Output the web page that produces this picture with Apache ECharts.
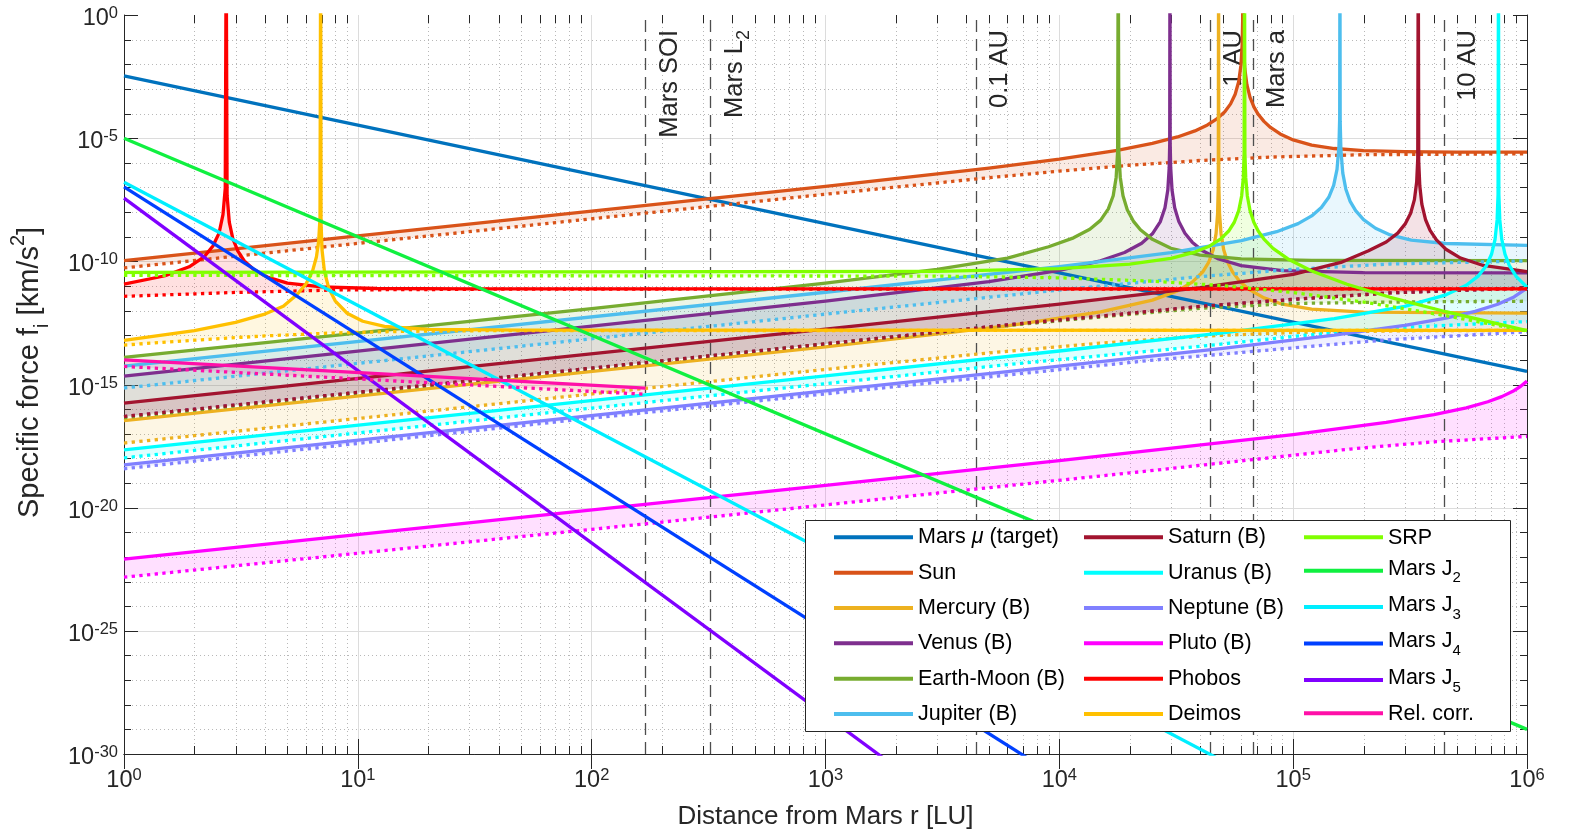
<!DOCTYPE html>
<html>
<head>
<meta charset="utf-8">
<script src="https://cdn.jsdelivr.net/npm/echarts@6/dist/echarts.min.js"></script>
<style>
  html, body { margin: 0; padding: 0; background: #fff; }
  #chart { width: 1571px; height: 839px; }
</style>
</head>
<body>
<div id="chart"></div>
<script>
// ---------------- data: distance r [LU] and specific force f [km/s^2] ----------------
// solid = upper bound (max), dotted = lower bound (min)

const muR = [1, 1e6];
const muF = [3.4e-3, 3.4e-15];

const sunMaxR = [1, 1000, 5000, 10000, 17700, 25000, 32000, 38000, 43000, 47000, 51000, 54000, 56500, 58500, 59800, 60500, 60800, 60950, 61100, 61400, 62100, 63400, 65400, 68000, 71000, 75000, 80000, 88000, 100000, 120000, 150000, 200000, 300000, 500000, 1e6];
const sunMaxF = [1.07e-10, 1.1e-7, 6.1e-7, 1.4e-6, 3.2e-6, 6.1e-6, 1.12e-5, 1.97e-5, 3.43e-5, 5.9e-5, 1.19e-4, 2.47e-4, 6.1e-4, 2.0e-3, 9.2e-3, 6.0e-2, 0.54, 1e3, 0.40, 4.4e-2, 6.7e-3, 1.49e-3, 4.5e-4, 1.82e-4, 9.1e-5, 4.8e-5, 2.73e-5, 1.49e-5, 8.5e-6, 5.2e-6, 3.8e-6, 3.14e-6, 2.84e-6, 2.73e-6, 2.69e-6];
const sunMinR = [1, 1000, 5000, 10000, 20000, 40000, 80000, 200000, 1e6];
const sunMinF = [5.4e-11, 5.3e-8, 2.48e-7, 4.59e-7, 7.95e-7, 1.24e-6, 1.71e-6, 2.13e-6, 2.33e-6];

const mercuryMaxR = [1, 1000, 6000, 15000, 25000, 32000, 37000, 41000, 43500, 45500, 46800, 47500, 47850, 47970, 48090, 48440, 49150, 50450, 52450, 55000, 59000, 65000, 75000, 90000, 120000, 200000, 1e6];
const mercuryMaxF = [3.4e-17, 3.4e-14, 2.42e-13, 8.8e-13, 2.66e-12, 6.3e-12, 1.43e-11, 3.67e-11, 9.0e-11, 2.97e-10, 1.33e-9, 8.2e-9, 1.26e-7, 1e3, 1.26e-7, 8.2e-9, 1.33e-9, 2.96e-10, 9.1e-11, 3.75e-11, 1.57e-11, 7.1e-12, 3.28e-12, 1.82e-12, 1.14e-12, 8.7e-13, 7.9e-13];
const mercuryMinR = [1, 1000, 5000, 15000, 40000, 100000, 300000, 1e6];
const mercuryMinF = [4.2e-18, 4.1e-15, 1.91e-14, 4.8e-14, 9.1e-14, 1.29e-13, 1.52e-13, 1.57e-13];

const venusMaxR = [1, 1000, 5000, 10000, 15000, 19000, 22500, 25000, 27000, 28300, 29100, 29500, 29650, 29720, 29790, 29940, 30340, 31140, 32440, 34440, 37000, 41000, 48000, 60000, 90000, 200000, 1e6];
const venusMaxF = [2.2e-15, 2.41e-12, 1.51e-11, 4.3e-11, 1.05e-10, 2.27e-10, 5.4e-10, 1.31e-9, 4.0e-9, 1.49e-8, 7.8e-8, 6.2e-7, 6.1e-6, 1e3, 6.1e-6, 6.2e-7, 7.8e-8, 1.49e-8, 4.1e-9, 1.38e-9, 6.0e-10, 2.7e-10, 1.24e-10, 6.7e-11, 4.2e-11, 3.5e-11, 3.4e-11];
const venusMinR = [1, 73.5, 6166, 14960, 40090, 107200, 260000, 1e6];
const venusMinF = [5.0e-17, 3.4e-15, 2.7e-13, 5.9e-13, 1.48e-12, 3.0e-12, 5.25e-12, 8.3e-12];

const earthMaxR = [1, 100, 1000, 3000, 6000, 9000, 11500, 13500, 15000, 16200, 17000, 17500, 17750, 17860, 17970, 18220, 18720, 19520, 20720, 22220, 25000, 30000, 40000, 60000, 120000, 1e6];
const earthMaxF = [1.25e-14, 1.21e-12, 1.31e-11, 4.76e-11, 1.36e-10, 3.9e-10, 9.0e-10, 2.0e-9, 4.6e-9, 1.35e-8, 4.6e-8, 2.6e-7, 2.8e-6, 1e3, 2.8e-6, 2.6e-7, 4.6e-8, 1.25e-8, 4.3e-9, 1.9e-9, 7.8e-10, 3.4e-10, 1.77e-10, 1.26e-10, 1.1e-10, 1.07e-10];
const earthMinR = [1, 1000, 5000, 15000, 40000, 100000, 300000, 1e6];
const earthMinF = [4.5e-17, 4.43e-14, 2.1e-13, 5.5e-13, 1.25e-12, 1.95e-12, 2.25e-12, 2.4e-12];

const jupiterMaxR = [1, 1000, 10000, 30000, 60000, 85000, 105000, 120000, 132000, 142000, 149000, 154000, 157000, 158100, 158500, 158900, 160000, 163000, 168000, 175000, 185000, 200000, 225000, 260000, 320000, 450000, 1e6];
const jupiterMaxF = [5.6e-15, 5.56e-12, 6.1e-11, 2.28e-10, 6.9e-10, 1.6e-9, 3.4e-9, 7.0e-9, 1.52e-8, 3.99e-8, 1.22e-7, 5.4e-7, 4.9e-6, 6.9e-5, 1e3, 4.8e-5, 3.4e-6, 3.8e-7, 8.5e-8, 2.8e-8, 1.14e-8, 4.9e-9, 2.2e-9, 1.18e-9, 7.3e-10, 5.3e-10, 4.45e-10];
const jupiterMinR = [1, 1000, 10000, 40000, 100000, 260000, 1e6];
const jupiterMinF = [7.2e-16, 7.2e-13, 6.85e-12, 2.4e-11, 4.75e-11, 7.8e-11, 1.04e-10];

const saturnMaxR = [1, 1000, 10000, 40000, 100000, 160000, 210000, 250000, 280000, 302000, 318000, 330000, 337500, 341000, 342700, 344400, 348000, 355000, 368000, 385000, 410000, 450000, 520000, 650000, 1e6];
const saturnMaxF = [1.75e-16, 1.76e-13, 1.83e-12, 8.5e-12, 2.98e-11, 9.0e-11, 2.7e-10, 6.1e-10, 1.4e-9, 3.4e-9, 9.0e-9, 3.2e-8, 1.7e-7, 1.5e-6, 1e3, 1.1e-6, 1.14e-7, 2.1e-8, 5.0e-9, 1.82e-9, 7.4e-10, 3.1e-10, 1.36e-10, 6.8e-11, 3.8e-11];
const saturnMinR = [1, 73.5, 6166, 14960, 40090, 107200, 260000, 1e6];
const saturnMinF = [5.0e-17, 3.4e-15, 2.7e-13, 5.9e-13, 1.48e-12, 3.0e-12, 5.25e-12, 8.3e-12];

const uranusMaxR = [1, 1000, 10000, 50000, 150000, 300000, 450000, 550000, 620000, 670000, 705000, 730000, 745000, 752000, 755000, 758000, 765000, 780000, 805000, 840000, 900000, 1e6];
const uranusMaxF = [2.24e-18, 2.24e-15, 2.29e-14, 1.24e-13, 4.7e-13, 1.48e-12, 4.36e-12, 1.07e-11, 2.58e-11, 6.6e-11, 1.93e-10, 7.7e-10, 4.8e-9, 5.3e-8, 1e3, 5.3e-8, 4.8e-9, 7.8e-10, 1.95e-10, 6.8e-11, 2.4e-11, 8.9e-12];
const uranusMinR = [1, 73.5, 6166, 40090, 107200, 260000, 1e6];
const uranusMinF = [1.05e-18, 8.1e-17, 6.6e-15, 3.55e-14, 9.5e-14, 1.95e-13, 3.6e-13];

const neptuneMaxR = [1, 1000, 10000, 50000, 150000, 300000, 450000, 600000, 750000, 880000, 1e6];
const neptuneMaxF = [5.5e-19, 5.5e-16, 5.57e-15, 2.93e-14, 1.0e-13, 2.52e-13, 4.96e-13, 9.3e-13, 1.81e-12, 3.58e-12, 8.25e-12];
const neptuneMinR = [1, 73.5, 6166, 24490, 175400, 260000, 1e6];
const neptuneMinF = [3.8e-19, 3.16e-17, 2.5e-15, 9.5e-15, 4.9e-14, 6.6e-14, 1.38e-13];

const plutoMaxR = [1, 1000, 10000, 100000, 250000, 400000, 550000, 680000, 780000, 870000, 940000, 1e6];
const plutoMaxF = [8.1e-23, 8.1e-20, 8.2e-19, 9.2e-18, 2.87e-17, 5.96e-17, 1.13e-16, 1.99e-16, 3.22e-16, 5.3e-16, 8.5e-16, 1.37e-15];
const plutoMinR = [1, 192.8, 24490, 175400, 398100, 1e6];
const plutoMinF = [1.5e-23, 2.5e-21, 3.16e-19, 2.4e-18, 4.7e-18, 7.8e-18];

const phobosMaxR = [1, 1.5, 1.9, 2.2, 2.4, 2.55, 2.65, 2.71, 2.735, 2.76, 2.82, 2.92, 3.07, 3.27, 3.6, 4.1, 5.0, 7.0, 12, 30, 1e6];
const phobosMaxF = [1.2e-11, 2.6e-11, 6.0e-11, 1.5e-10, 4.2e-10, 1.4e-9, 7.9e-9, 9.1e-8, 1e3, 4.6e-8, 3.9e-9, 8.4e-10, 2.6e-10, 1.03e-10, 4.6e-11, 2.3e-11, 1.31e-11, 9.2e-12, 7.9e-12, 7.6e-12, 7.6e-12];
const phobosMinR = [1, 2.884, 8.26, 40.7, 1e6];
const phobosMinF = [3.8e-12, 5.4e-12, 6.9e-12, 7.4e-12, 7.6e-12];

const deimosMaxR = [1, 2, 3, 4, 4.8, 5.5, 6.0, 6.4, 6.65, 6.8, 6.89, 6.934, 6.96, 7.03, 7.2, 7.5, 8.0, 9.0, 10.5, 13, 20, 50, 1e6];
const deimosMaxF = [6.2e-14, 1.54e-13, 3.33e-13, 7.25e-13, 1.51e-12, 4.5e-12, 1.2e-11, 4.0e-11, 1.5e-10, 6.5e-10, 6e-9, 1e3, 3.9e-9, 2.9e-10, 3.8e-11, 8.5e-12, 2.5e-12, 7.8e-13, 3.7e-13, 2.3e-13, 1.74e-13, 1.6e-13, 1.58e-13];
const deimosMinR = [1, 2, 4, 8, 16, 40, 1e6];
const deimosMinF = [4.0e-14, 6.3e-14, 9.4e-14, 1.24e-13, 1.44e-13, 1.55e-13, 1.58e-13];

const srpMaxR = [1, 3000, 10000, 20000, 30000, 38000, 44000, 49000, 53000, 56000, 58500, 60200, 61200, 61700, 61940, 62180, 62680, 63680, 65380, 67880, 70880, 75000, 82000, 95000, 120000, 170000, 260000, 450000, 1e6];
const srpMaxF = [3.55e-11, 3.92e-11, 5.05e-11, 7.74e-11, 1.33e-10, 2.38e-10, 4.23e-10, 8.1e-10, 1.7e-9, 3.86e-9, 1.15e-8, 4.5e-8, 2.49e-7, 2.37e-6, 1e3, 2.37e-6, 2.49e-7, 4.5e-8, 1.15e-8, 3.86e-9, 1.7e-9, 8.0e-10, 3.38e-10, 1.25e-10, 4.04e-11, 1.17e-11, 3.47e-12, 9.0e-13, 1.55e-13];
const srpMinR = [1, 3000, 10000, 25000, 50000, 100000, 200000, 450000, 1e6];
const srpMinF = [2.7e-11, 2.51e-11, 2.14e-11, 1.57e-11, 1.03e-11, 5.4e-12, 2.23e-12, 6.2e-13, 1.5e-13];

const zonalR = [1, 1e6];
const j2F = [1.0e-5, 1.0e-29];
const j3F = [1.62e-7, 1.62e-37];
const j4F = [1.05e-7, 1.05e-43];
const j5F = [3.7e-8, 3.7e-50];

const relMaxR = [1, 170];
const relMaxF = [1.0e-14, 7.1e-16];
const relMinR = [1, 170];
const relMinF = [5.4e-15, 4.0e-16];

// reference distances [LU] marked by dashed lines
const markerR = [170, 323, 4414, 44140, 67240, 441400];
const markerText = ['Mars SOI', 'Mars L{sub|2}', '0.1 AU', '1 AU', 'Mars a', '10 AU'];

// legend columns
const legendCol1 = ['Mars μ (target)', 'Sun', 'Mercury (B)', 'Venus (B)', 'Earth-Moon (B)', 'Jupiter (B)'];
const legendCol2 = ['Saturn (B)', 'Uranus (B)', 'Neptune (B)', 'Pluto (B)', 'Phobos', 'Deimos'];
const legendCol3 = ['SRP', 'Mars J2', 'Mars J3', 'Mars J4', 'Mars J5', 'Rel. corr.'];

// axis decades
const yExponents = [];
for (let e = -30; e <= 0; e++) yExponents.push(e);
const xMinorTicks = [];
for (let k = 0; k < 6; k++) for (let m = 2; m <= 9; m++) xMinorTicks.push(m * Math.pow(10, k));

// ---------------- styling ----------------
const FONT = "'Liberation Sans', Arial, Helvetica, sans-serif";
const AXIS_COLOR = '#262626';
const LW = 3.3;
const C = {
  mu: '#0072BD', sun: '#D95319', mercury: '#EDB120', venus: '#7E2F8E', earth: '#77AC30',
  jupiter: '#4DBEEE', saturn: '#A2142F', uranus: '#00FFFF', neptune: '#8080FF', pluto: '#FF00FF',
  phobos: '#FF0000', deimos: '#FFC000', srp: '#80FF00', j2: '#10F040', j3: '#00EEFF',
  j4: '#0040FF', j5: '#8000FF', rel: '#FF10A8'
};

const pairs = (R, F) => R.map((r, i) => [r, F[i]]);

function solidLine(name, R, F, color) {
  return {
    name, type: 'line', data: pairs(R, F), color, symbol: 'none', showSymbol: false,
    clip: true, z: 2, silent: true, emphasis: { disabled: true },
    lineStyle: { color, width: LW, cap: 'butt', join: 'round' }, itemStyle: { color }
  };
}
function dottedLine(name, R, F, color) {
  const s = solidLine(name, R, F, color);
  s.lineStyle = { color, width: LW, type: [3.3, 4.4], cap: 'butt' };
  return s;
}

// shaded bands between upper and lower bound of each perturbation
const bands = [
  { color: C.sun, maxR: sunMaxR, maxF: sunMaxF, minR: sunMinR, minF: sunMinF },
  { color: C.mercury, maxR: mercuryMaxR, maxF: mercuryMaxF, minR: mercuryMinR, minF: mercuryMinF },
  { color: C.venus, maxR: venusMaxR, maxF: venusMaxF, minR: venusMinR, minF: venusMinF },
  { color: C.earth, maxR: earthMaxR, maxF: earthMaxF, minR: earthMinR, minF: earthMinF },
  { color: C.jupiter, maxR: jupiterMaxR, maxF: jupiterMaxF, minR: jupiterMinR, minF: jupiterMinF },
  { color: C.saturn, maxR: saturnMaxR, maxF: saturnMaxF, minR: saturnMinR, minF: saturnMinF },
  { color: C.uranus, maxR: uranusMaxR, maxF: uranusMaxF, minR: uranusMinR, minF: uranusMinF },
  { color: C.neptune, maxR: neptuneMaxR, maxF: neptuneMaxF, minR: neptuneMinR, minF: neptuneMinF },
  { color: C.pluto, maxR: plutoMaxR, maxF: plutoMaxF, minR: plutoMinR, minF: plutoMinF },
  { color: C.phobos, maxR: phobosMaxR, maxF: phobosMaxF, minR: phobosMinR, minF: phobosMinF },
  { color: C.deimos, maxR: deimosMaxR, maxF: deimosMaxF, minR: deimosMinR, minF: deimosMinF },
  { color: C.srp, maxR: srpMaxR, maxF: srpMaxF, minR: srpMinR, minF: srpMinF },
  { color: C.rel, maxR: relMaxR, maxF: relMaxF, minR: relMinR, minF: relMinF }
];

function renderBand(params, api) {
  const b = bands[api.value(2)];
  const cs = params.coordSys;
  const pts = [];
  for (let i = 0; i < b.maxR.length; i++) pts.push(api.coord([b.maxR[i], b.maxF[i]]));
  for (let i = b.minR.length - 1; i >= 0; i--) pts.push(api.coord([b.minR[i], b.minF[i]]));
  return {
    type: 'polygon', silent: true,
    shape: { points: pts },
    style: { fill: b.color, opacity: 0.12 },
    clipPath: { type: 'rect', shape: { x: cs.x, y: cs.y, width: cs.width, height: cs.height } }
  };
}

const tickRich = {
  b: { fontSize: 23.5, lineHeight: 26, verticalAlign: 'bottom', fontFamily: FONT, color: AXIS_COLOR, fill: AXIS_COLOR },
  s: { fontSize: 16.5, lineHeight: 26, verticalAlign: 'top', fontFamily: FONT, color: AXIS_COLOR, fill: AXIS_COLOR }
};
const powLabel = e => '{b|10}{s|' + e + '}';

// minor grid, y ticks and y tick labels
function renderFrame(params, api) {
  const cs = params.coordSys;
  const L = cs.x, R = cs.x + cs.width, T = cs.y, B = cs.y + cs.height;
  const kids = [];
  const minorGrid = { stroke: '#b8b8b8', lineWidth: 1, lineDash: [1, 3] };
  const majorGrid = { stroke: '#dcdcdc', lineWidth: 1 };
  const tick = { stroke: AXIS_COLOR, lineWidth: 1 };
  const seg = (x1, y1, x2, y2, style) => kids.push({ type: 'line', shape: { x1, y1, x2, y2 }, style });
  xMinorTicks.forEach(v => {
    const x = Math.round(api.coord([v, 1])[0]) + 0.5;
    seg(x, T, x, B, minorGrid);
    seg(x, B, x, B - 8, tick);
    seg(x, T, x, T + 8, tick);
  });
  yExponents.forEach(e => {
    const y = Math.round(api.coord([1, Number('1e' + e)])[1]) + 0.5;
    const major = e % 5 === 0;
    if (e !== 0 && e !== -30) seg(L, y, R, y, major ? majorGrid : minorGrid);
    const len = major ? 14 : 7;
    seg(L, y, L + len, y, tick);
    seg(R, y, R - len, y, tick);
    if (major) {
      kids.push({
        type: 'text', x: L - 6, y: y + 2,
        style: { text: powLabel(e), rich: tickRich, align: 'right', verticalAlign: 'middle', fill: AXIS_COLOR, fontFamily: FONT }
      });
    }
  });
  return { type: 'group', silent: true, children: kids };
}

// ---------------- series ----------------
const series = [
  { name: 'frame', type: 'custom', coordinateSystem: 'cartesian2d', clip: false, z: 1, silent: true,
    renderItem: renderFrame, data: [[1, 1]], encode: { x: 0, y: 1 } },
  { name: 'bands', type: 'custom', coordinateSystem: 'cartesian2d', clip: true, z: 1, silent: true,
    renderItem: renderBand, data: bands.map((b, i) => [b.maxR[0], b.maxF[0], i]), encode: { x: 0, y: 1 } },
  { name: 'markers', type: 'line', data: [], z: 1.5, silent: true,
    markLine: {
      silent: true, symbol: ['none', 'none'], z: 1.5, animation: false,
      lineStyle: { type: [12, 7], color: '#4d4d4d', width: 1.3 },
      label: {
        show: true, position: 'insideEndBottom', distance: [15, 6],
        fontFamily: FONT, fontSize: 25.5, color: AXIS_COLOR, lineHeight: 36,
        rich: { sub: { fontFamily: FONT, fontSize: 18, lineHeight: 36, verticalAlign: 'bottom', color: AXIS_COLOR } }
      },
      data: markerR.map((r, i) => ({ xAxis: r, label: { formatter: () => markerText[i] } }))
    }
  },
  solidLine('Mars μ (target)', muR, muF, C.mu),
  dottedLine('Sun min', sunMinR, sunMinF, C.sun), solidLine('Sun', sunMaxR, sunMaxF, C.sun),
  dottedLine('Mercury min', mercuryMinR, mercuryMinF, C.mercury), solidLine('Mercury (B)', mercuryMaxR, mercuryMaxF, C.mercury),
  dottedLine('Venus min', venusMinR, venusMinF, C.venus), solidLine('Venus (B)', venusMaxR, venusMaxF, C.venus),
  dottedLine('Earth-Moon min', earthMinR, earthMinF, C.earth), solidLine('Earth-Moon (B)', earthMaxR, earthMaxF, C.earth),
  dottedLine('Jupiter min', jupiterMinR, jupiterMinF, C.jupiter), solidLine('Jupiter (B)', jupiterMaxR, jupiterMaxF, C.jupiter),
  dottedLine('Saturn min', saturnMinR, saturnMinF, C.saturn), solidLine('Saturn (B)', saturnMaxR, saturnMaxF, C.saturn),
  dottedLine('Uranus min', uranusMinR, uranusMinF, C.uranus), solidLine('Uranus (B)', uranusMaxR, uranusMaxF, C.uranus),
  dottedLine('Neptune min', neptuneMinR, neptuneMinF, C.neptune), solidLine('Neptune (B)', neptuneMaxR, neptuneMaxF, C.neptune),
  dottedLine('Pluto min', plutoMinR, plutoMinF, C.pluto), solidLine('Pluto (B)', plutoMaxR, plutoMaxF, C.pluto),
  dottedLine('Phobos min', phobosMinR, phobosMinF, C.phobos), solidLine('Phobos', phobosMaxR, phobosMaxF, C.phobos),
  dottedLine('Deimos min', deimosMinR, deimosMinF, C.deimos), solidLine('Deimos', deimosMaxR, deimosMaxF, C.deimos),
  dottedLine('SRP min', srpMinR, srpMinF, C.srp), solidLine('SRP', srpMaxR, srpMaxF, C.srp),
  solidLine('Mars J2', zonalR, j2F, C.j2),
  solidLine('Mars J3', zonalR, j3F, C.j3),
  solidLine('Mars J4', zonalR, j4F, C.j4),
  solidLine('Mars J5', zonalR, j5F, C.j5),
  dottedLine('Rel. corr. min', relMinR, relMinF, C.rel), solidLine('Rel. corr.', relMaxR, relMaxF, C.rel)
];

// ---------------- legend ----------------
function legendLabel(name) {
  if (name === 'Mars μ (target)') return '{t|Mars }{it|μ}{t| (target)}';
  const m = name.match(/^Mars J(\d)$/);
  if (m) return '{t|Mars J}{sub|' + m[1] + '}';
  return '{t|' + name + '}';
}
const LFS = 21.5;
const legendRich = {
  t: { fontFamily: FONT, fontSize: LFS, lineHeight: 24, color: '#000' },
  it: { fontFamily: FONT, fontSize: LFS, lineHeight: 24, fontStyle: 'italic', color: '#000' },
  sub: { fontFamily: FONT, fontSize: 15, lineHeight: 30, verticalAlign: 'bottom', color: '#000' }
};
const legendRich3 = {
  t: { fontFamily: FONT, fontSize: LFS, lineHeight: 24, verticalAlign: 'top', padding: [2, 0, 0, 0], color: '#000' },
  sub: { fontFamily: FONT, fontSize: 15, lineHeight: 30, verticalAlign: 'bottom', color: '#000' }
};
function legendCol(left, top, gap, data, rich) {
  return {
    orient: 'vertical', left, top, itemGap: gap, padding: 0, z: 12,
    icon: 'rect', itemWidth: 79, itemHeight: 4, selectedMode: false,
    formatter: legendLabel, data,
    textStyle: { fontFamily: FONT, fontSize: LFS, lineHeight: 24, color: '#000', rich }
  };
}

// ---------------- chart ----------------
const chart = echarts.init(document.getElementById('chart'), null, { renderer: 'canvas' });
chart.setOption({
  animation: false,
  backgroundColor: '#fff',
  grid: { left: 123, top: 15, width: 1404, height: 739, containLabel: false },
  xAxis: [
    {
      type: 'log', logBase: 10, min: 1, max: 1e6, position: 'bottom',
      name: 'Distance from Mars r [LU]', nameLocation: 'middle', nameGap: 50,
      nameTextStyle: { fontFamily: FONT, fontSize: 26, color: AXIS_COLOR },
      axisLine: { show: true, lineStyle: { color: AXIS_COLOR, width: 1 } },
      axisTick: { show: true, inside: true, length: 15, lineStyle: { color: AXIS_COLOR } },
      axisLabel: {
        show: true, margin: 13, showMinLabel: true, showMaxLabel: true,
        formatter: v => powLabel(Math.round(Math.log10(v))), rich: tickRich
      },
      splitLine: { show: true, lineStyle: { color: '#dcdcdc', width: 1 } },
      minorTick: { show: false }, minorSplitLine: { show: false }
    },
    {
      type: 'log', logBase: 10, min: 1, max: 1e6, position: 'top',
      axisLine: { show: true, lineStyle: { color: AXIS_COLOR, width: 1 } },
      axisTick: { show: true, inside: true, length: 15, lineStyle: { color: AXIS_COLOR } },
      axisLabel: { show: false }, splitLine: { show: false }
    }
  ],
  yAxis: [
    {
      type: 'log', logBase: 10, min: 1e-30, max: 1, position: 'left',
      name: 'Specific force f{sub|i} [km/s{sup|2}]', nameLocation: 'middle', nameGap: 72, nameRotate: 90,
      nameTextStyle: {
        fontFamily: FONT, fontSize: 29, color: AXIS_COLOR, lineHeight: 44, padding: [0, 0, 0, 24],
        rich: {
          sub: { fontFamily: FONT, fontSize: 20, lineHeight: 44, verticalAlign: 'bottom', color: AXIS_COLOR },
          sup: { fontFamily: FONT, fontSize: 20, lineHeight: 44, verticalAlign: 'top', color: AXIS_COLOR }
        }
      },
      axisLine: { show: true, lineStyle: { color: AXIS_COLOR, width: 1 } },
      axisTick: { show: false }, axisLabel: { show: false }, splitLine: { show: false }
    },
    {
      type: 'log', logBase: 10, min: 1e-30, max: 1, position: 'right',
      axisLine: { show: true, lineStyle: { color: AXIS_COLOR, width: 1 } },
      axisTick: { show: false }, axisLabel: { show: false }, splitLine: { show: false }
    }
  ],
  legend: [
    legendCol(834, 525.3, 11.34, legendCol1, legendRich),
    legendCol(1084, 525.3, 11.34, legendCol2, legendRich),
    legendCol(1304, 525.3, 6.4, legendCol3, legendRich3)
  ],
  graphic: [{
    type: 'rect', z: 10, silent: true,
    shape: { x: 805.5, y: 520.5, width: 705, height: 211 },
    style: { fill: '#fff', stroke: AXIS_COLOR, lineWidth: 1 }
  }],
  series
});
</script>
</body>
</html>
